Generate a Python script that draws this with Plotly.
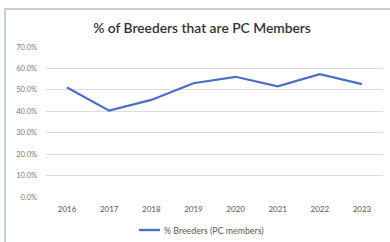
import plotly.graph_objects as go

years = ["2016", "2017", "2018", "2019", "2020", "2021", "2022", "2023"]
pct_breeders = [0.511, 0.403, 0.453, 0.531, 0.561, 0.516, 0.573, 0.527]
y_ticks = [0, 0.1, 0.2, 0.3, 0.4, 0.5, 0.6, 0.7]
y_tick_labels = ["0.0%", "10.0%", "20.0%", "30.0%", "40.0%", "50.0%", "60.0%", "70.0%"]
series_name = "% Breeders (PC members)"
title_text = "% of Breeders that are PC Members"

W, H = 390, 242
ml, mr, mt, mb = 46, 7, 47, 45
pw, ph = W - ml - mr, H - mt - mb
line_color = "#4a6fc4"

def px_x(p):
    return (p - ml) / pw

def px_y(p):
    return (H - mb - p) / ph

fig = go.Figure()
fig.add_trace(go.Scatter(
    x=years, y=pct_breeders, mode="lines", name=series_name,
    line=dict(color=line_color, width=2.2), showlegend=False,
))

fig.update_layout(
    width=W, height=H,
    margin=dict(l=ml, r=mr, t=mt, b=mb, autoexpand=False),
    paper_bgcolor="white", plot_bgcolor="white",
    font=dict(family="Lato, Liberation Sans, sans-serif", color="#595959"),
    title=dict(text=title_text, x=px_x(202), xanchor="center", xref="paper",
               y=1 - 28 / H, yanchor="middle",
               font=dict(size=13.8, color="#333333", weight=600)),
    showlegend=False,
    xaxis=dict(type="category", range=[-0.5, 7.5], showgrid=False, zeroline=False, showline=False,
               automargin=False,
               ticks="", tickfont=dict(size=8, color="#555555"), ticklabelstandoff=6),
    yaxis=dict(range=[0, 0.7], tickvals=y_ticks, ticktext=y_tick_labels, automargin=False,
               showgrid=True, gridcolor="#dcdcdc", gridwidth=1.2, zeroline=False,
               showline=False, ticks="", tickfont=dict(size=7.5, color="#7a7a7a"),
               ticklabelstandoff=8),
    shapes=[
        dict(type="line", xref="paper", yref="paper",
             x0=px_x(5), x1=px_x(5), y0=px_y(8), y1=px_y(260),
             line=dict(color="#c5cfdc", width=2), layer="below"),
        dict(type="line", xref="paper", yref="paper",
             x0=px_x(4), x1=px_x(400), y0=px_y(9), y1=px_y(9),
             line=dict(color="#c5cfdc", width=2), layer="below"),
        dict(type="line", xref="paper", yref="paper",
             x0=px_x(139), x1=px_x(160), y0=px_y(230), y1=px_y(230),
             line=dict(color=line_color, width=2.4)),
    ],
    annotations=[dict(text=series_name, xref="paper", yref="paper",
                      x=px_x(162), y=px_y(230), xanchor="left", yanchor="middle",
                      showarrow=False, font=dict(size=8.8, color="#595959"))],
)

fig.write_html("out.html", config={"displayModeBar": False},
               post_script="document.body.style.margin='0';")
